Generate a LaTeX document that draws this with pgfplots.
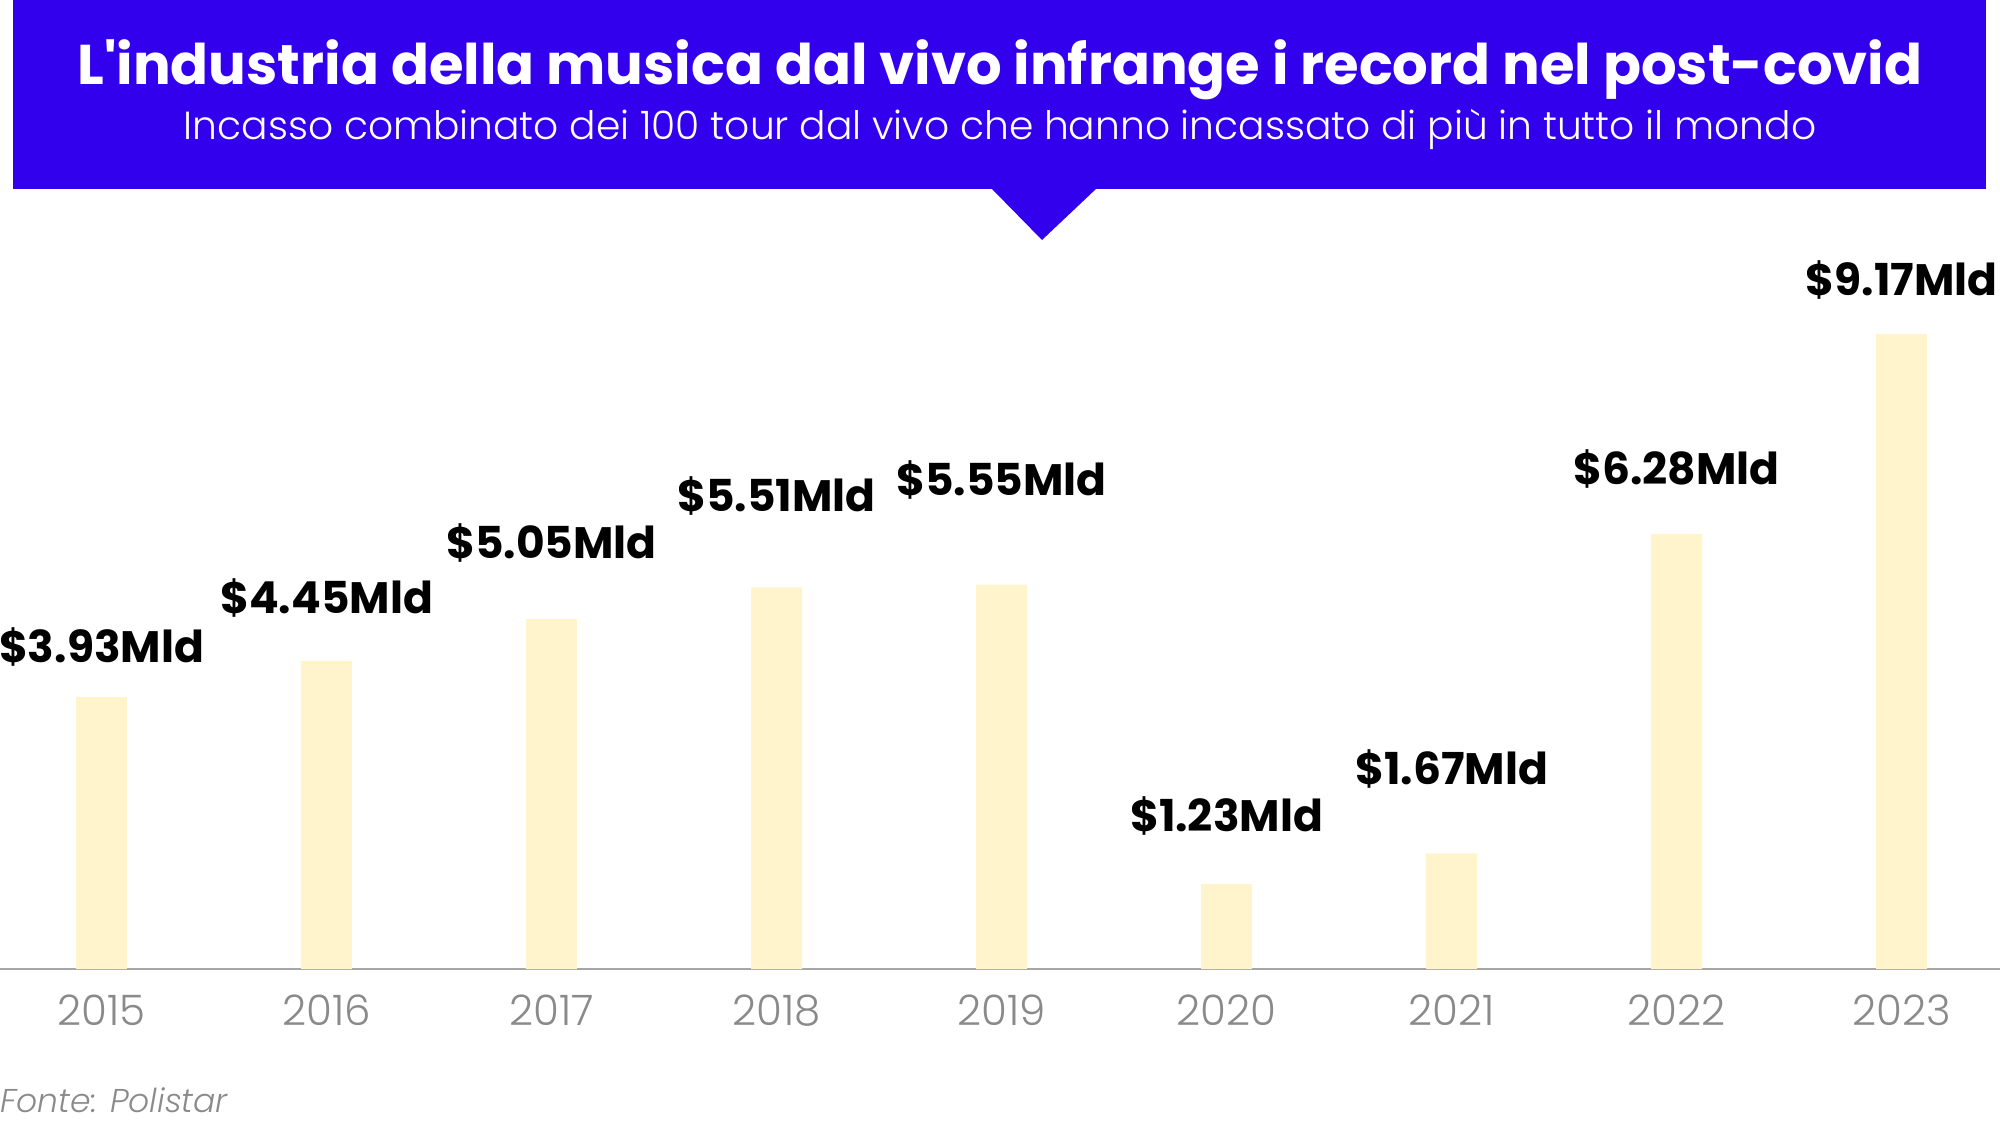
\documentclass[border=0pt]{standalone}
\usepackage{pgfplots}
\pgfplotsset{compat=1.18}
\usepackage{pgfplotstable}
\usepackage{fontspec}
\setmainfont{Poppins}
\newfontfamily\poplight{Poppins Light}[ItalicFont={Poppins Light Italic}]

\definecolor{headblue}{HTML}{3300EE}
\definecolor{barfill}{HTML}{FFF4CC}
\definecolor{tickgray}{HTML}{8A8A8A}

% x = year index (0 = 2015), y = gross in $ billions, laby = where the label sits
\pgfplotstableread{
x y    laby
0 3.93 4.42
1 4.45 5.14
2 5.05 5.92
3 5.51 6.60
4 5.55 6.83
5 1.23 1.98
6 1.67 2.66
7 6.28 6.99
8 9.17 9.73
}\tourdata

\begin{document}
\begin{tikzpicture}
\path[use as bounding box] (0,0) rectangle (1000pt,562pt);

% header box with pointer
\fill[headblue] (6.5pt,562pt) rectangle (993pt,467.5pt);
\fill[headblue] (495.5pt,468pt) -- (548.5pt,468pt) -- (521pt,442pt) -- cycle;
\node[anchor=base, inner sep=0pt, text=white] at (500pt,519.5pt)
  {\bfseries\fontsize{28}{28}\selectfont L\textquotesingle industria della musica dal vivo infrange i record nel post-covid};
\node[anchor=base, inner sep=0pt, text=white] at (500pt,492pt)
  {\poplight\fontsize{19.6}{19.6}\selectfont Incasso combinato dei 100 tour dal vivo che hanno incassato di più in tutto il mondo};

\begin{axis}[
    at={(0pt,77.5pt)}, anchor=south west,
    scale only axis,
    width=1000pt, height=363.6pt,
    xmin=-0.451, xmax=8.438,
    ymin=0, ymax=10.5,
    axis x line=bottom, axis y line=none,
    x axis line style={-, draw=gray!70, line width=1pt},
    xtick={0,...,8},
    xticklabels={2015,2016,2017,2018,2019,2020,2021,2022,2023},
    major tick length=0pt,
    xticklabel style={anchor=base, yshift=-28pt, text=tickgray,
        font=\poplight\fontsize{21}{21}\selectfont},
    clip=false,
]
\addplot[ybar, bar width=25.5pt, bar shift=0pt, fill=barfill, draw=none]
    table[x=x, y=y] {\tourdata};
\addplot[draw=none,
    nodes near coords={\$\pgfmathprintnumber[fixed, precision=2, fixed zerofill, assume math mode=true]{\pgfplotspointmeta}Mld},
    point meta=\thisrow{y},
    every node near coord/.append style={anchor=base, inner sep=0pt,
        font=\bfseries\fontsize{22}{22}\selectfont},
] table[x=x, y=laby] {\tourdata};
\end{axis}

\node[anchor=base west, inner sep=0pt, text=tickgray] at (0pt,6pt)
  {\poplight\itshape\fontsize{16.5}{16.5}\selectfont Fonte: Polistar};
\end{tikzpicture}
\end{document}
